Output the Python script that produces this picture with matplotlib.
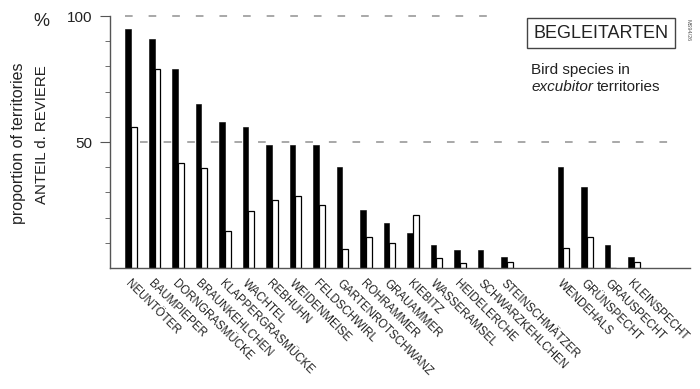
import numpy as np
import matplotlib.pyplot as plt

# species in the open-land group and the woodpecker group
species = ["NEUNTÖTER", "BAUMPIEPER", "DORNGRASMÜCKE", "BRAUNKEHLCHEN",
           "KLAPPERGRASMÜCKE", "WACHTEL", "REBHUHN", "WEIDENMEISE",
           "FELDSCHWIRL", "GARTENROTSCHWANZ", "ROHRAMMER", "GRAUAMMER",
           "KIEBITZ", "WASSERAMSEL", "HEIDELERCHE", "SCHWARZKEHLCHEN",
           "STEINSCHMÄTZER"]
woodpeckers = ["WENDEHALS", "GRÜNSPECHT", "GRAUSPECHT", "KLEINSPECHT"]

# % of territories (black / white bars)
black_vals = [95, 91, 79, 65, 58, 56, 49, 49, 49, 40, 23, 18, 14, 9, 7, 7, 4.5,
              40, 32, 9, 4.5]
white_vals = [56, 79, 41.5, 39.5, 14.5, 22.5, 27, 28.5, 25, 7.5, 12.5, 10, 21,
              4, 2, 0, 2.5,
              8, 12.5, 0, 2.5]

labels = species + woodpeckers
gap = 1.4
x = np.concatenate([np.arange(len(species)),
                    np.arange(len(woodpeckers)) + len(species) + gap])

W, H = 700, 389
font = "Liberation Sans"
plt.rcParams["font.family"] = [font, "DejaVu Sans"]
plt.rcParams["lines.scale_dashes"] = False

fig = plt.figure(figsize=(W / 100, H / 100), dpi=100)
ax = fig.add_axes([110 / W, (H - 268) / H, 580 / W, 252 / H])

w = 0.243
ax.bar(x - w / 2, black_vals, width=w, color="black", edgecolor="black",
       linewidth=0.4)
ax.bar(x + w / 2, white_vals, width=w, color="white", edgecolor="black",
       linewidth=0.9)

# dashed reference lines
ax.hlines(100, -0.26, 15.3, colors="#999999", linewidth=1.2,
          linestyles=(0, (5.5, 11.5)), clip_on=False)
ax.hlines(50, 0.38, 23.1, colors="#999999", linewidth=1.2,
          linestyles=(0, (5.5, 11.5)))

ax.set_xlim(-0.894, 23.79)
ax.set_ylim(0, 100)

for s in ["top", "right"]:
    ax.spines[s].set_visible(False)
for s in ["left", "bottom"]:
    ax.spines[s].set_color("#555555")
    ax.spines[s].set_linewidth(1)

ax.set_yticks([50, 100])
ax.set_yticklabels(["50", "100"], fontsize=11, color="#222222")
ax.set_yticks(np.arange(10, 100, 10), minor=True)
ax.tick_params(axis="y", which="major", length=7, color="#555555", pad=6)
ax.tick_params(axis="y", which="minor", length=3.6, color="#555555")

ax.set_xticks(x)
ax.set_xticklabels(labels, rotation=-45, ha="left", va="top",
                   rotation_mode="anchor", fontsize=8.3, color="#222222")
ax.tick_params(axis="x", length=0, pad=7)

# axis titles
fig.text(19 / W, 1 - 143 / H, "proportion of territories", rotation=90,
         ha="center", va="center", fontsize=11.5, color="#222222")
fig.text(42 / W, 1 - 135 / H, "ANTEIL d. REVIERE", rotation=90,
         ha="center", va="center", fontsize=10.8, color="#222222")
fig.text(41 / W, 1 - 21 / H, "%", ha="center", va="center", fontsize=13,
         color="#222222")

# title box
fig.text(601 / W, 1 - 33 / H, "BEGLEITARTEN", ha="center", va="center",
         fontsize=13, color="#222222",
         bbox=dict(boxstyle="square,pad=0.38", facecolor="white",
                   edgecolor="#444444", linewidth=1))
fig.text(688 / W, 1 - 30 / H, "MS94/26", rotation=-90, ha="center",
         va="center", fontsize=4, color="#555555")
fig.text(531 / W, 1 - 70 / H, "Bird species in", ha="left", va="center",
         fontsize=11, color="#222222")
fig.text(531 / W, 1 - 87 / H, "excubitor", ha="left", va="center",
         fontsize=11, style="italic", color="#222222")
fig.text(597 / W, 1 - 87 / H, "territories", ha="left", va="center",
         fontsize=11, color="#222222")

fig.savefig("out.png", dpi=100)
